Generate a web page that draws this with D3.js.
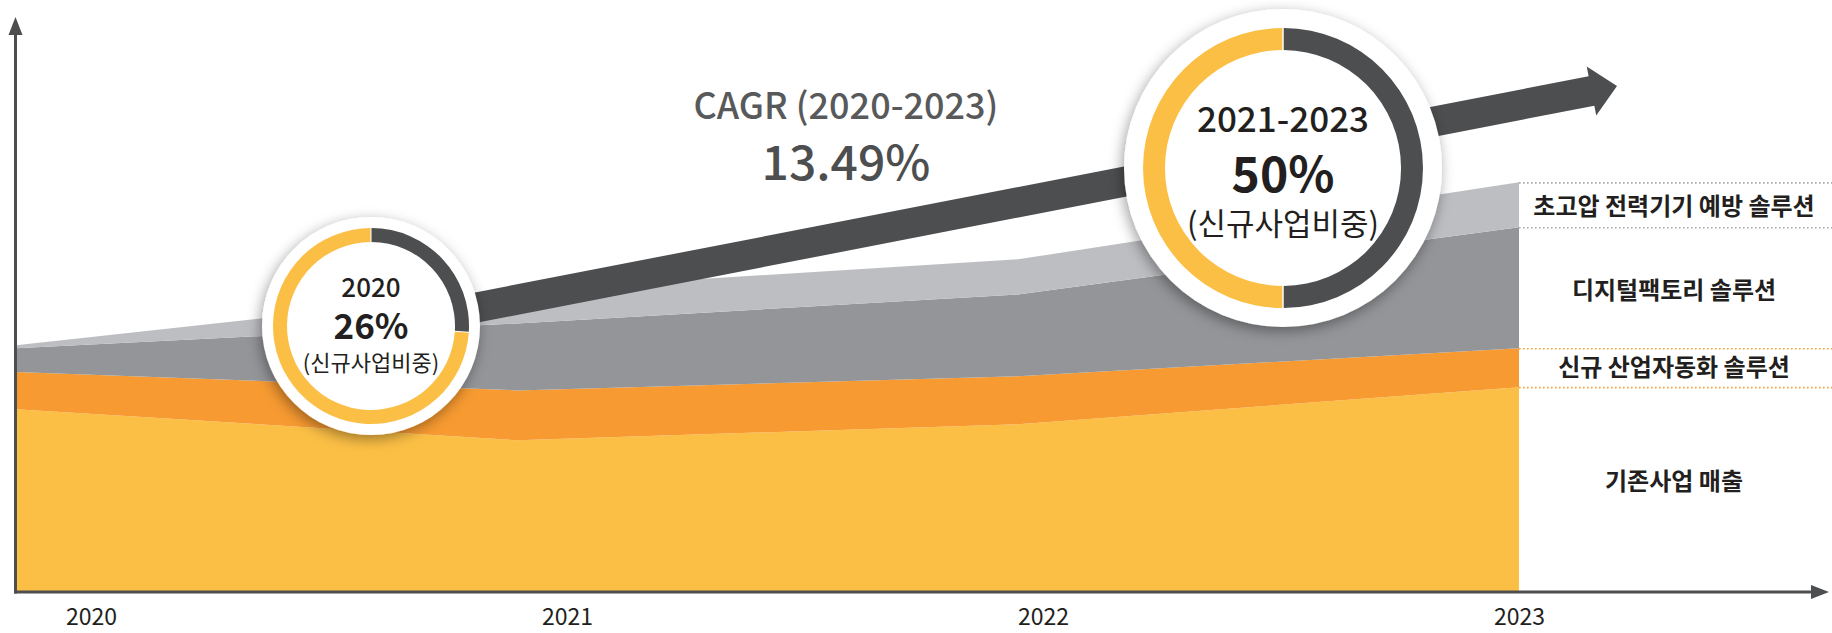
<!DOCTYPE html>
<html>
<head>
<meta charset="utf-8">
<script src="https://cdn.jsdelivr.net/npm/d3@7"></script>
<style>
  html, body { margin: 0; padding: 0; background: #fff; }
  svg { display: block; font-family: "Noto Sans CJK KR", "Noto Sans", sans-serif; }
</style>
</head>
<body>
<div class="canvas"></div>
<script>
// data (index, 2020 total = 100)
const years = ['2020', '2021', '2022', '2023'];
const seriesNames = ['기존사업 매출', '신규 산업자동화 솔루션', '디지털팩토리 솔루션', '초고압 전력기기 예방 솔루션'];
const existing = [74.1, 61.5, 68.0, 83.0];
const automation = [15.0, 20.2, 19.4, 15.8];
const digitalFactory = [9.7, 27.1, 33.2, 49.0];
const highVoltage = [1.2, 13.4, 14.2, 18.2];
const shareLabels = ['2020', '2021-2023'];
const newShare = [26, 50];
const cagrLabel = 'CAGR (2020-2023)';
const cagrValue = 13.49;

// setup
const width = 1832, height = 633;
const colors = ['#fcbf45', '#f79a31', '#939598', '#bdbec1'];
const dotColors = ['#f9a23a', '#f9a23a', '#a7a9ac', '#a7a9ac'];
const labelNudge = [-8, 0, 3, 2];
const dark = '#4d4e50';
const ink = '#231f20';

const svg = d3.select('.canvas')
  .append('svg')
  .attr('width', width)
  .attr('height', height);

const defs = svg.append('defs');
defs.append('filter')
  .attr('id', 'shadow')
  .attr('x', '-30%').attr('y', '-30%')
  .attr('width', '160%').attr('height', '160%')
  .append('feDropShadow')
  .attr('dx', -2).attr('dy', 4)
  .attr('stdDeviation', 7)
  .attr('flood-color', '#000')
  .attr('flood-opacity', 0.38);

// scales
const x = d3.scalePoint().domain(years).range([16, 1519]);
const xLabel = d3.scalePoint().domain(years).range([91, 1519]);
const y = d3.scaleLinear().domain([0, 233]).range([592, 17]);

// stacked table
const table = years.map((yr, i) => ({
  year: yr,
  [seriesNames[0]]: existing[i],
  [seriesNames[1]]: automation[i],
  [seriesNames[2]]: digitalFactory[i],
  [seriesNames[3]]: highVoltage[i]
}));
const stacked = d3.stack().keys(seriesNames)(table);

const area = d3.area()
  .x(d => x(d.data.year))
  .y0(d => y(d[0]))
  .y1(d => y(d[1]));

svg.append('g')
  .selectAll('path')
  .data(stacked)
  .enter()
  .append('path')
  .attr('d', area)
  .attr('fill', (d, i) => colors[i]);

// dotted guides + series labels at the right
const last = years.length - 1;
svg.append('g')
  .selectAll('line')
  .data(stacked)
  .enter()
  .append('line')
  .attr('x1', x(years[last]))
  .attr('x2', width)
  .attr('y1', d => y(d[last][1]) + 0.5)
  .attr('y2', d => y(d[last][1]) + 0.5)
  .attr('stroke', (d, i) => dotColors[i])
  .attr('stroke-width', 1.6)
  .attr('stroke-dasharray', '1.6,2.4');

svg.append('g')
  .selectAll('text')
  .data(stacked)
  .enter()
  .append('text')
  .attr('x', 1674)
  .attr('y', (d, i) => y((d[last][0] + d[last][1]) / 2) + labelNudge[i])
  .attr('dy', '0.35em')
  .attr('text-anchor', 'middle')
  .attr('font-size', 24)
  .attr('font-weight', 700)
  .attr('fill', ink)
  .text(d => d.key);

// axes
const axes = svg.append('g').attr('fill', dark).attr('stroke', dark);
axes.append('line')
  .attr('x1', 15.5).attr('x2', 15.5)
  .attr('y1', y(0) + 1.5).attr('y2', 33)
  .attr('stroke-width', 3);
axes.append('path')
  .attr('stroke', 'none')
  .attr('d', 'M15.5,17 L22.5,35 L8.5,35 Z');
axes.append('line')
  .attr('x1', 14).attr('x2', 1813)
  .attr('y1', y(0)).attr('y2', y(0))
  .attr('stroke-width', 3);
axes.append('path')
  .attr('stroke', 'none')
  .attr('d', `M1829,${y(0)} L1811,${y(0) - 7} L1811,${y(0) + 7} Z`);

const xAxis = d3.axisBottom(xLabel).tickSize(0).tickPadding(0);
const xAxisGroup = svg.append('g')
  .attr('transform', `translate(0, 625)`)
  .call(xAxis);
xAxisGroup.select('.domain').remove();
xAxisGroup.selectAll('text')
  .attr('dy', 0)
  .attr('font-family', '"Noto Sans CJK KR", "Noto Sans", sans-serif')
  .attr('font-size', 23)
  .attr('fill', ink);

// big CAGR arrow
const arrowStart = [371, 328], arrowTip = [1617, 86];
const shaft = 15, headHalf = 25, headLen = 26;
const dx = arrowTip[0] - arrowStart[0], dy = arrowTip[1] - arrowStart[1];
const len = Math.hypot(dx, dy);
const u = [dx / len, dy / len], n = [-u[1], u[0]];
const base = [arrowTip[0] - u[0] * headLen, arrowTip[1] - u[1] * headLen];
const pt = (p, k) => [p[0] + n[0] * k, p[1] + n[1] * k];
const arrowPts = [pt(arrowStart, shaft), pt(base, shaft), pt(base, headHalf), arrowTip,
  pt(base, -headHalf), pt(base, -shaft), pt(arrowStart, -shaft)];
svg.append('path')
  .attr('d', 'M' + arrowPts.map(p => p.join(',')).join('L') + 'Z')
  .attr('fill', dark);

// CAGR text
svg.append('text')
  .attr('x', 846).attr('y', 119)
  .attr('text-anchor', 'middle')
  .attr('font-size', 36)
  .attr('font-weight', 500)
  .attr('fill', '#58595b')
  .text(cagrLabel);
svg.append('text')
  .attr('x', 846).attr('y', 180)
  .attr('text-anchor', 'middle')
  .attr('font-size', 48)
  .attr('font-weight', 500)
  .attr('fill', dark)
  .text(cagrValue.toFixed(2) + '%');

// share donuts
const donuts = [
  { cx: 371, cy: 326, disc: 109, outer: 98, inner: 84, fs: [26, 35, 22], ty: [-29, 13, 45] },
  { cx: 1283, cy: 168, disc: 159, outer: 140, inner: 118, fs: [35, 48, 31], ty: [-36, 24, 67] }
];
const pie = d3.pie().sort(null).value(d => d);
donuts.forEach((dn, i) => {
  const g = svg.append('g').attr('transform', `translate(${dn.cx},${dn.cy})`);
  g.append('circle').attr('r', dn.disc).attr('fill', '#fff').attr('filter', 'url(#shadow)');
  const arc = d3.arc().innerRadius(dn.inner).outerRadius(dn.outer).padAngle(0.008);
  g.selectAll('path')
    .data(pie([newShare[i], 100 - newShare[i]]))
    .enter()
    .append('path')
    .attr('d', arc)
    .attr('fill', (d, j) => j === 0 ? dark : colors[0]);
  const lines = [shareLabels[i], newShare[i] + '%', '(신규사업비중)'];
  g.selectAll('text')
    .data(lines)
    .enter()
    .append('text')
    .attr('y', (d, j) => dn.ty[j])
    .attr('text-anchor', 'middle')
    .attr('font-size', (d, j) => dn.fs[j])
    .attr('font-weight', (d, j) => j === 1 ? 700 : (j === 0 ? 500 : 400))
    .attr('fill', ink)
    .text(d => d);
});
</script>
</body>
</html>
